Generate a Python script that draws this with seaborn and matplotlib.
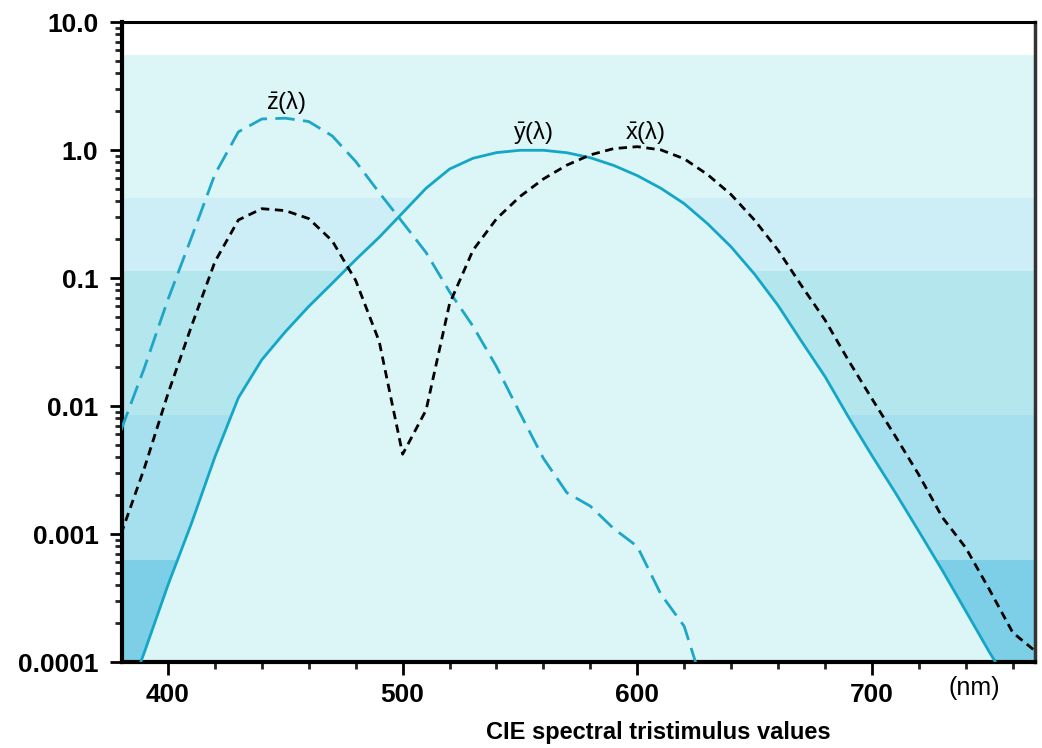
import numpy as np
import pandas as pd
import seaborn as sns
import matplotlib.pyplot as plt
from matplotlib.ticker import FixedLocator, MultipleLocator, NullFormatter

# wavelength grid (nm) and tristimulus values
wavelength = [380, 390, 400, 410, 420, 430, 440, 450, 460, 470, 480, 490,
              500, 510, 520, 530, 540, 550, 560, 570, 580, 590, 600, 610,
              620, 630, 640, 650, 660, 670, 680, 690, 700, 710, 720, 730,
              740, 750, 760, 770]
x_bar = [0.001, 0.0033, 0.0125, 0.042, 0.134, 0.284, 0.348, 0.336, 0.291,
         0.195, 0.0956, 0.032, 0.0042, 0.0093, 0.063, 0.165, 0.29, 0.433,
         0.594, 0.762, 0.916, 1.026, 1.062, 1.003, 0.854, 0.642, 0.448,
         0.283, 0.165, 0.087, 0.047, 0.0227, 0.0114, 0.0058, 0.0029,
         0.00135, 0.00078, 0.00037, 0.00017, 0.00012]
y_bar = [0.000039, 0.00012, 0.0004, 0.00121, 0.004, 0.0116, 0.023, 0.038,
         0.06, 0.091, 0.139, 0.208, 0.323, 0.503, 0.71, 0.862, 0.954, 0.995,
         0.995, 0.952, 0.87, 0.757, 0.631, 0.503, 0.381, 0.265, 0.175,
         0.107, 0.061, 0.032, 0.017, 0.0082, 0.0041, 0.0021, 0.00105,
         0.00052, 0.00025, 0.00012, 0.00006, 0.00003]
z_bar = [0.0065, 0.02, 0.068, 0.207, 0.646, 1.386, 1.747, 1.772, 1.669,
         1.288, 0.813, 0.465, 0.272, 0.158, 0.078, 0.042, 0.0203, 0.0088,
         0.0039, 0.0021, 0.00165, 0.0011, 0.0008, 0.00034, 0.00019,
         0.00005, 0.00002]

# horizontal background bands (lower, upper)
band_edges = [0.00001, 0.00063, 0.0085, 0.114, 0.424, 5.5]
band_colors = ['#7ccfe6', '#a6dfee', '#b3e6ed', '#cdeef6', '#dcf5f6']

yticks = [0.0001, 0.001, 0.01, 0.1, 1.0, 10.0]
ytick_labels = ['0.0001', '0.001', '0.01', '0.1', '1.0', '10.0']
xticks = [400, 500, 600, 700]

sns.set_theme(style='ticks')
plt.rcParams['font.family'] = ['Liberation Sans', 'DejaVu Sans']
plt.rcParams['text.color'] = 'black'
plt.rcParams['mathtext.fontset'] = 'custom'
plt.rcParams['mathtext.rm'] = 'Liberation Sans'
plt.rcParams['mathtext.it'] = 'Liberation Sans'

fig = plt.figure(figsize=(10.42, 7.48), dpi=100)
ax = fig.add_axes([122 / 1042, 1 - 662 / 748, 913 / 1042, 640 / 748])
ax.set_yscale('log')

for lo, hi, c in zip(band_edges[:-1], band_edges[1:], band_colors):
    ax.axhspan(lo, hi, color=c, lw=0, zorder=0)

# area under the photopic curve
ax.fill_between(wavelength, y_bar, 1e-5, color=band_colors[-1], lw=0, zorder=1)

df_x = pd.DataFrame({'wl': wavelength, 'v': x_bar})
df_y = pd.DataFrame({'wl': wavelength, 'v': y_bar})
df_z = pd.DataFrame({'wl': wavelength[:len(z_bar)], 'v': z_bar})

sns.lineplot(data=df_z, x='wl', y='v', ax=ax, color='#1ea6c9', lw=2.0,
             linestyle=(0, (7, 3)), zorder=3)
sns.lineplot(data=df_y, x='wl', y='v', ax=ax, color='#14a6c6', lw=2.0,
             zorder=3)
sns.lineplot(data=df_x, x='wl', y='v', ax=ax, color='black', lw=2.0,
             linestyle=(0, (3, 2)), zorder=4)

ax.set_xlim(380.4, 769.5)
ax.set_ylim(0.0001, 10.0)

ax.yaxis.set_major_locator(FixedLocator(yticks))
ax.set_yticklabels(ytick_labels)
ax.yaxis.set_minor_formatter(NullFormatter())
ax.set_xticks(xticks)
ax.xaxis.set_minor_locator(MultipleLocator(20))

ax.tick_params(axis='both', which='major', labelsize=19, length=9, width=2,
               color='black', labelcolor='black')
ax.tick_params(axis='y', which='major', pad=8)
ax.tick_params(axis='x', which='major', pad=6)
ax.tick_params(axis='both', which='minor', length=5, width=2, color='#222222')
for lab in ax.get_xticklabels() + ax.get_yticklabels():
    lab.set_fontweight('bold')

ax.set_xlabel('')
ax.set_ylabel('')
for side in ['left', 'bottom']:
    ax.spines[side].set_linewidth(3)
    ax.spines[side].set_color('black')
ax.spines['top'].set_linewidth(2.2)
ax.spines['top'].set_color('black')
ax.spines['right'].set_visible(True)
ax.spines['right'].set_linewidth(2.5)
ax.spines['right'].set_color('#333333')

# curve labels
ax.text(450.3, 2.33, r'$\bar{\mathrm{z}}(\lambda)$', ha='center', va='center',
        fontsize=17)
ax.text(555.5, 1.36, r'$\bar{\mathrm{y}}(\lambda)$', ha='center', va='center',
        fontsize=17)
ax.text(603.3, 1.36, r'$\bar{\mathrm{x}}(\lambda)$', ha='center', va='center',
        fontsize=17)

fig.text(974 / 1042, 1 - 688 / 748, '(nm)', ha='center', va='center',
         fontsize=18)
fig.text(658 / 1042, 1 - 732 / 748, 'CIE spectral tristimulus values',
         ha='center', va='center', fontsize=17, fontweight='bold')

fig.savefig('out.png', dpi=100)
